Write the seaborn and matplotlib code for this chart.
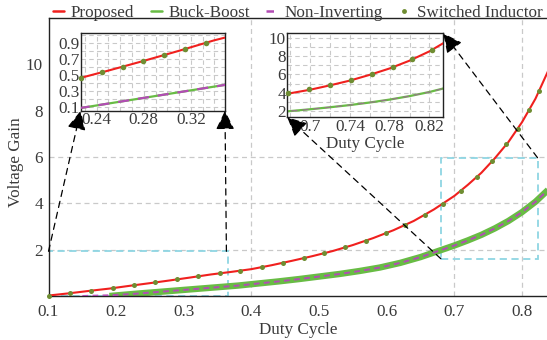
import matplotlib
matplotlib.use("Agg")
import matplotlib.pyplot as plt
import seaborn as sns
import pandas as pd
from matplotlib.patches import Rectangle
from matplotlib.lines import Line2D
from matplotlib.ticker import MultipleLocator

# ---------------- data ----------------
proposed_d = [0.10, 0.13, 0.16, 0.19, 0.22, 0.25, 0.28, 0.31, 0.34, 0.37, 0.40, 0.43,
              0.46, 0.49, 0.52, 0.55, 0.58, 0.61, 0.64, 0.67, 0.70, 0.72, 0.74, 0.76,
              0.78, 0.80, 0.82, 0.84]
proposed_gain = [0.02, 0.115, 0.22, 0.32, 0.44, 0.555, 0.675, 0.80, 0.93, 1.04, 1.16, 1.33,
                 1.52, 1.72, 1.94, 2.20, 2.50, 2.84, 3.24, 3.74, 4.32, 4.80, 5.32, 5.95,
                 6.65, 7.50, 8.52, 9.80]

bb_d = [0.19, 0.23, 0.26, 0.29, 0.32, 0.35, 0.38, 0.41, 0.44, 0.47, 0.50, 0.53, 0.56,
        0.59, 0.62, 0.65, 0.68, 0.70, 0.72, 0.74, 0.76, 0.78, 0.80, 0.82, 0.84]
bb_gain = [0.0, 0.10, 0.17, 0.24, 0.31, 0.38, 0.45, 0.54, 0.63, 0.73, 0.84, 0.95, 1.08,
           1.23, 1.43, 1.68, 1.98, 2.18, 2.40, 2.64, 2.92, 3.24, 3.62, 4.07, 4.62]

ni_d = [0.15, 0.19, 0.23, 0.26, 0.29, 0.32, 0.35, 0.38, 0.41, 0.44, 0.47, 0.50, 0.53, 0.56,
        0.59, 0.62, 0.65, 0.68, 0.70, 0.72, 0.74, 0.76, 0.78, 0.80, 0.82, 0.84]
ni_gain = [0.0, 0.03, 0.10, 0.17, 0.24, 0.31, 0.38, 0.45, 0.54, 0.63, 0.73, 0.84, 0.95, 1.08,
           1.23, 1.43, 1.68, 1.98, 2.18, 2.40, 2.64, 2.92, 3.24, 3.62, 4.07, 4.62]

si_d = [0.100, 0.132, 0.163, 0.195, 0.226, 0.258, 0.290, 0.321, 0.353, 0.383, 0.415, 0.446,
        0.477, 0.508, 0.539, 0.569, 0.599, 0.627, 0.656, 0.683, 0.710, 0.734, 0.756, 0.777,
        0.794, 0.811, 0.825]
si_gain = [0.02, 0.12, 0.225, 0.335, 0.46, 0.585, 0.72, 0.85, 0.98, 1.09, 1.25, 1.43,
           1.63, 1.85, 2.10, 2.38, 2.71, 3.06, 3.50, 3.98, 4.52, 5.15, 5.82, 6.55,
           7.23, 8.02, 8.83]

si_left_d = [0.2266, 0.2447, 0.2626, 0.2796, 0.2975, 0.3151, 0.3327]
si_left_gain = [0.465, 0.535, 0.605, 0.673, 0.748, 0.822, 0.898]
si_right_d = [0.678, 0.699, 0.720, 0.741, 0.762, 0.783, 0.803, 0.823]
si_right_gain = [3.95, 4.35, 4.85, 5.40, 6.05, 6.77, 7.65, 8.70]

series_labels = ["Proposed", "Buck-Boost", "Non-Inverting", "Switched Inductor"]
main_xticks = [0.1, 0.2, 0.3, 0.4, 0.5, 0.6, 0.7, 0.8]
main_yticks = [2, 4, 6, 8, 10]
left_xticks = [0.24, 0.28, 0.32]
left_yticks = [0.1, 0.3, 0.5, 0.7, 0.9]
right_xticks = [0.7, 0.74, 0.78, 0.82]
right_yticks = [2, 4, 6, 8, 10]

# ---------------- style ----------------
sns.set_theme(style="white")
plt.rcParams['font.family'] = ['Liberation Serif', 'DejaVu Serif']
plt.rcParams['axes.edgecolor'] = 'black'

RED = "#f0201e"
GREEN = "#68bc44"
MAGENTA = "#b24cb4"
OLIVE = "#6f8d32"
CYAN = "#8fd6e3"
GRID = "#c9c9c9"
TXT = "#3a3a3a"
FS = 12.3

prop_df = pd.DataFrame({"D": proposed_d, "G": proposed_gain})
bb_df = pd.DataFrame({"D": bb_d, "G": bb_gain})
ni_df = pd.DataFrame({"D": ni_d, "G": ni_gain})
si_df = pd.DataFrame({"D": si_d, "G": si_gain})
sil_df = pd.DataFrame({"D": si_left_d, "G": si_left_gain})
sir_df = pd.DataFrame({"D": si_right_d, "G": si_right_gain})

fig = plt.figure(figsize=(5.47, 3.40), dpi=100)
ax = fig.add_axes([0.0887, 0.1294, 0.9113, 0.8176])

# grid (only a few dashed lines in the reference)
for gx in [0.4, 0.7, 0.8]:
    ax.axvline(gx, color=GRID, ls=(0, (4, 3)), lw=0.9, zorder=0)
for gy in [2, 4, 6]:
    ax.axhline(gy, color=GRID, ls=(0, (4, 3)), lw=0.9, zorder=0)

sns.lineplot(data=bb_df, x="D", y="G", ax=ax, color=GREEN, lw=4.6, zorder=2,
             solid_capstyle='butt')
sns.lineplot(data=ni_df, x="D", y="G", ax=ax, color=MAGENTA, lw=1.4,
             linestyle=(0, (3, 2.2)), zorder=3)
sns.lineplot(data=prop_df, x="D", y="G", ax=ax, color=RED, lw=1.5, zorder=4)
sns.scatterplot(data=si_df, x="D", y="G", ax=ax, color=OLIVE, s=13, linewidth=0,
                zorder=5, clip_on=False)

# zoom rectangles
ax.add_patch(Rectangle((0.1, 0.0), 0.266, 1.93, fill=False, ec=CYAN, lw=1.3,
                       ls=(0, (4, 2.5)), zorder=1))
ax.add_patch(Rectangle((0.68, 1.61), 0.143, 4.36, fill=False, ec=CYAN, lw=1.3,
                       ls=(0, (4, 2.5)), zorder=1))

ax.set_xlim(0.1, 0.837)
ax.set_ylim(0, 12)
ax.set_xticks(main_xticks)
ax.set_xticklabels([f"{v:g}" for v in main_xticks])
ax.set_yticks(main_yticks)
ax.set_yticklabels([str(v) for v in main_yticks])
ax.tick_params(direction='in', length=3, width=0.8, labelsize=FS, labelcolor=TXT,
               pad=4, color='#444444')
ax.tick_params(axis='x', pad=6)
ax.spines['right'].set_visible(False)
for s in ['left', 'bottom', 'top']:
    ax.spines[s].set_linewidth(1.0)
    ax.spines[s].set_color('#222222')
ax.set_xlabel("Duty Cycle", fontsize=FS, color=TXT, labelpad=1)
ax.set_ylabel("Voltage Gain", fontsize=FS, color=TXT)
ax.yaxis.set_label_coords(-0.05, 0.48)


def style_inset(a, xt, yt, xminor, yminor):
    a.set_facecolor('white')
    a.xaxis.set_minor_locator(MultipleLocator(xminor))
    a.yaxis.set_minor_locator(MultipleLocator(yminor))
    a.grid(True, which='both', color=GRID, ls=(0, (4, 3)), lw=0.8)
    a.set_axisbelow(True)
    a.set_xticks(xt)
    a.set_xticklabels([f"{v:g}" for v in xt])
    a.set_yticks(yt)
    a.set_yticklabels([f"{v:g}" for v in yt])
    a.tick_params(which='both', direction='in', length=0, labelsize=FS,
                  labelcolor=TXT, pad=1)
    for s in a.spines.values():
        s.set_visible(True)
        s.set_color('#222222')
        s.set_linewidth(1.0)
    a.set_xlabel("")
    a.set_ylabel("")


# left inset
axl = fig.add_axes([0.1475, 0.6744, 0.2638, 0.2276])
sns.lineplot(data=bb_df, x="D", y="G", ax=axl, color=GREEN, lw=1.6, zorder=2)
sns.lineplot(data=ni_df, x="D", y="G", ax=axl, color=MAGENTA, lw=1.6,
             linestyle=(0, (5, 4)), zorder=3)
sns.lineplot(data=prop_df, x="D", y="G", ax=axl, color=RED, lw=1.5, zorder=4)
sns.scatterplot(data=sil_df, x="D", y="G", ax=axl, color=OLIVE, s=16, linewidth=0,
                zorder=5, clip_on=False)
axl.set_xlim(0.2264, 0.349)
axl.set_ylim(0.058, 1.016)
style_inset(axl, left_xticks, left_yticks, 0.01, 0.1)

# right inset
axr = fig.add_axes([0.5252, 0.655, 0.2852, 0.2471])
sns.lineplot(data=bb_df, x="D", y="G", ax=axr, color=GREEN, lw=1.6, zorder=2)
sns.lineplot(data=ni_df, x="D", y="G", ax=axr, color=MAGENTA, lw=0.9,
             linestyle=(0, (5, 4)), zorder=3, alpha=0.6)
sns.lineplot(data=prop_df, x="D", y="G", ax=axr, color=RED, lw=1.5, zorder=4)
sns.scatterplot(data=sir_df, x="D", y="G", ax=axr, color=OLIVE, s=16, linewidth=0,
                zorder=5, clip_on=False)
axr.set_xlim(0.677, 0.834)
axr.set_ylim(1.3, 10.5)
style_inset(axr, right_xticks, right_yticks, 0.02, 1)
axr.set_xlabel("Duty Cycle", fontsize=FS, color=TXT, labelpad=1)

# connecting dashed arrows
arrow_kw = dict(arrowstyle='-|>,head_length=0.45,head_width=0.22', color='black',
                lw=0.9, ls=(0, (5, 4)), shrinkA=0, shrinkB=0, mutation_scale=26)
for inset, pt_axes, pt_data in [
        (axl, (0.0, 0.0), (0.1, 1.93)),
        (axl, (1.0, 0.0), (0.363, 1.93)),
        (axr, (0.0, 0.0), (0.68, 1.61)),
        (axr, (1.0, 1.0), (0.823, 5.97))]:
    inset.annotate('', xy=pt_axes, xycoords=inset.transAxes,
                   xytext=pt_data, textcoords=ax.transData,
                   arrowprops=arrow_kw, annotation_clip=False, zorder=10)

# legend
handles = [
    Line2D([], [], color=RED, lw=1.8),
    Line2D([], [], color=GREEN, lw=1.8),
    Line2D([], [], color=MAGENTA, lw=1.8, ls=(0, (3, 2))),
    Line2D([], [], color=OLIVE, marker='o', ls='none', markersize=3.5,
           markeredgewidth=0),
]
fig.legend(handles, series_labels, loc='center left', bbox_to_anchor=(0.097, 0.963),
           ncol=4, frameon=False, fontsize=FS, handlelength=0.65, handletextpad=0.4,
           columnspacing=0.95, borderaxespad=0, borderpad=0,
           labelcolor=TXT)

fig.savefig("out.png", dpi=100)
